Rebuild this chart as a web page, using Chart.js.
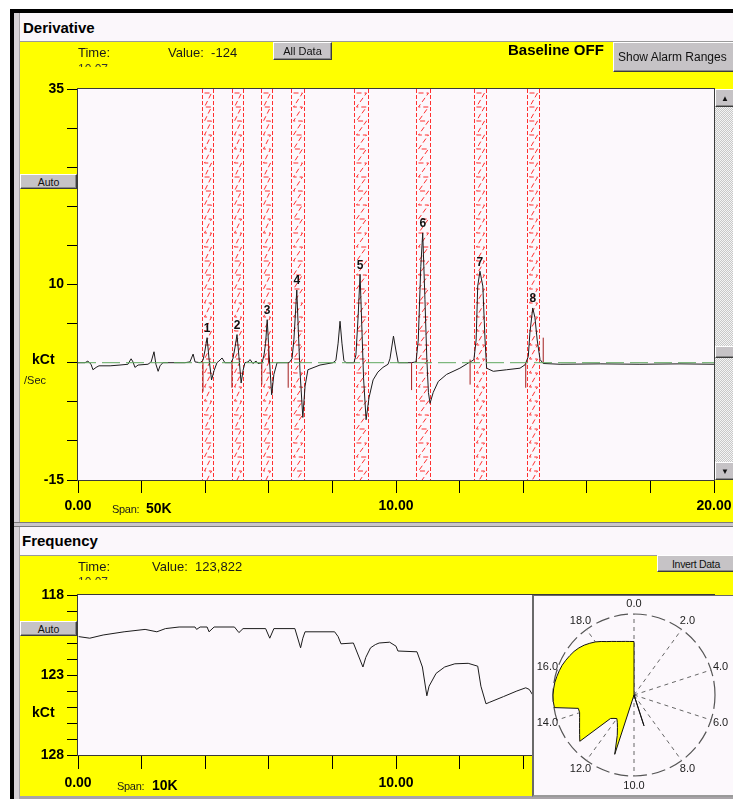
<!DOCTYPE html>
<html>
<head>
<meta charset="utf-8">
<script src="https://cdn.jsdelivr.net/npm/chart.js@4.4.1/dist/chart.umd.min.js"></script>
<style>
  body { margin:0; width:733px; height:799px; overflow:hidden; position:relative; background:#fff;
         font-family:"Liberation Sans", Arial, sans-serif; color:#000; }
  .abs { position:absolute; }
  .btn { position:absolute; box-sizing:border-box; background:#c6c3c6; border:1px solid;
         border-color:#fff #3c3c3c #3c3c3c #fff; box-shadow:inset -1px -1px #8a8a8a;
         font-size:11px; display:flex; align-items:center; justify-content:center; white-space:nowrap; color:#111; }
  .txt { position:absolute; white-space:nowrap; font-size:13px; line-height:15px; color:#1a1a1a; }
  .bold { font-weight:bold; color:#000; }
  .title { position:absolute; left:20px; width:713px; background:#fbf7fb; }
  .yellow { position:absolute; left:20px; width:713px; background:#ffff00; border-top:1px solid #9a9a9a; box-sizing:border-box; }
  .cut { position:absolute; overflow:hidden; height:4px; }
  .cut span { display:block; font-size:12px; line-height:12px; color:#333; }
  canvas { position:absolute; }
  .track { position:absolute; background:repeating-conic-gradient(#c8c8c8 0 25%, #f4f4f4 0 50%) 0 0/2px 2px; }
</style>
</head>
<body>

<!-- window frame -->
<div class="abs" style="left:10px;top:9px;width:723px;height:4px;background:#000"></div>
<div class="abs" style="left:10px;top:9px;width:4px;height:790px;background:#000"></div>
<div class="abs" style="left:14px;top:13px;width:6px;height:786px;background:#d6d2d6;border-right:1px solid #a8a4a8;box-sizing:border-box"></div>

<!-- Derivative panel -->
<div class="title" style="top:13px;height:29px"></div>
<div class="txt bold" style="left:23px;top:19px;font-size:15px;line-height:18px">Derivative</div>
<div class="yellow" style="top:41px;height:481px"></div>
<canvas id="deriv" width="740" height="480" style="left:20px;top:42px"></canvas>

<div class="txt" style="left:78px;top:45px">Time:</div>
<div class="cut" style="left:78px;top:63px;width:40px"><span>10.07</span></div>
<div class="txt" style="left:168px;top:45px">Value:&nbsp; -124</div>
<div class="btn" style="left:273px;top:42px;width:59px;height:18px">All Data</div>
<div class="txt bold" style="left:508px;top:41px;font-size:15px;line-height:18px">Baseline OFF</div>
<div class="btn" style="left:613px;top:42px;width:124px;height:30px;font-size:12px;justify-content:flex-start;padding-left:4px">Show Alarm Ranges</div>
<div class="btn" style="left:20px;top:174px;width:57px;height:15px;font-size:10.5px">Auto</div>
<div class="txt bold" style="left:32px;top:351px;font-size:14px;line-height:16px">kCt</div>
<div class="txt" style="left:24px;top:373px;font-size:11px">/Sec</div>
<div class="txt" style="left:112px;top:502px;font-size:11px;letter-spacing:-0.3px">Span:</div>
<div class="txt bold" style="left:146px;top:500px;font-size:14px;line-height:16px">50K</div>

<!-- scrollbar -->
<div class="track" style="left:715px;top:89px;width:20px;height:391px"></div>
<div class="btn" style="left:715px;top:89px;width:20px;height:18px;font-size:8px">&#9650;</div>
<div class="btn" style="left:715px;top:346px;width:20px;height:12px"></div>
<div class="btn" style="left:715px;top:462px;width:20px;height:18px;font-size:8px">&#9660;</div>

<!-- separator -->
<div class="abs" style="left:14px;top:522px;width:719px;height:5px;background:#c9c5c9;border-top:1px solid #7a7a7a;border-bottom:1px solid #7a7a7a;box-sizing:border-box"></div>

<!-- Frequency panel -->
<div class="title" style="top:527px;height:28px"></div>
<div class="txt bold" style="left:22px;top:532px;font-size:15px;line-height:18px">Frequency</div>
<div class="yellow" style="top:555px;height:242px"></div>
<div class="abs" style="left:20px;top:796px;width:713px;height:3px;background:#a8a4a8"></div>
<canvas id="freq" width="740" height="244" style="left:20px;top:555px"></canvas>

<div class="txt" style="left:78px;top:559px">Time:</div>
<div class="cut" style="left:78px;top:576px;width:40px"><span>10.07</span></div>
<div class="txt" style="left:152px;top:559px">Value:&nbsp; 123,822</div>
<div class="btn" style="left:657px;top:555px;width:78px;height:17px;font-size:10.5px;letter-spacing:-0.3px">Invert Data</div>
<div class="btn" style="left:20px;top:621px;width:57px;height:15px;font-size:10.5px">Auto</div>
<div class="txt bold" style="left:32px;top:704px;font-size:14px;line-height:16px">kCt</div>
<div class="txt" style="left:117px;top:779px;font-size:11px;letter-spacing:-0.3px">Span:</div>
<div class="txt bold" style="left:152px;top:777px;font-size:14px;line-height:16px">10K</div>

<!-- polar inset -->
<div class="abs" style="left:532px;top:595px;width:203px;height:202px;background:#fcf8fc;border-left:2px solid #6a6a6a;border-top:1px solid #6a6a6a;border-bottom:2px solid #9a9a9a;box-sizing:border-box"></div>
<canvas id="polar" width="200" height="200" style="left:534px;top:596px"></canvas>

<script>
// ---- Derivative trace (time in units, value in kCt/Sec) ----
const derivTime = [0.00,0.22,0.31,0.41,0.47,0.57,0.66,1.01,1.32,1.57,1.67,1.73,1.79,1.89,2.20,2.30,2.39,2.45,2.52,2.58,
  2.67,3.05,3.36,3.52,3.62,3.68,3.84,3.93,3.99,4.06,4.12,4.20,4.28,4.37,4.43,4.53,4.62,4.81,4.87,4.94,
  5.00,5.06,5.13,5.19,5.25,5.35,5.41,5.50,5.60,5.66,5.79,5.85,5.90,5.95,6.01,6.09,6.16,6.26,6.64,6.73,
  6.79,6.88,6.93,6.98,7.07,7.14,7.23,7.61,8.02,8.11,8.18,8.24,8.30,8.36,8.43,8.68,8.74,8.81,8.87,8.93,
  8.98,9.06,9.15,9.28,9.43,9.59,9.75,9.81,9.92,10.00,10.07,10.28,10.49,10.63,10.70,10.78,10.84,10.91,10.97,11.02,
  11.07,11.17,11.33,11.59,12.01,12.27,12.38,12.45,12.52,12.57,12.64,12.73,12.80,12.85,13.06,13.48,13.90,14.06,14.16,14.21,
  14.30,14.37,14.44,14.53,14.63,15.16,16.42,17.67,18.93,20.00];
const derivValue = [0.0,0.0,0.2,-0.2,-0.9,-0.6,-0.4,-0.4,-0.3,-0.2,0.5,0.1,-0.6,-0.3,-0.2,0.1,1.4,-0.2,-1.1,-0.4,
  0.0,0.0,0.0,0.1,1.1,0.1,0.0,0.3,1.5,3.2,0.5,-2.2,-1.0,0.0,0.2,0.6,0.0,0.0,0.5,2.0,
  3.6,0.8,-2.6,-1.0,0.0,0.1,0.4,-0.1,0.2,-0.1,0.0,1.0,2.5,5.5,1.0,-4.1,-1.5,0.0,0.0,0.5,
  3.0,9.3,4.0,-1.0,-7.0,-3.0,-0.9,-0.3,0.0,0.3,2.5,5.3,2.5,0.3,0.0,0.0,1.0,6.0,11.3,4.0,
  -2.0,-7.3,-4.5,-2.2,-1.2,-0.6,-0.2,0.5,3.4,1.5,0.0,0.0,0.0,0.1,2.9,12.3,16.6,8.1,0.4,-3.8,
  -5.2,-3.8,-2.4,-1.5,-0.7,-0.05,0.2,0.4,2.9,9.8,11.7,9.8,2.9,-0.7,-1.1,-0.9,-0.7,-0.26,0.8,3.8,
  7.0,5.75,2.9,0.4,-0.1,-0.2,-0.15,-0.2,-0.15,-0.2];

// numbered peaks
const peakNames = ['1','2','3','4','5','6','7','8'];
const peakTime = [4.06, 5.00, 5.95, 6.88, 8.87, 10.84, 12.64, 14.30];
const peakHeight = [3.2, 3.6, 5.5, 9.3, 11.3, 16.6, 11.7, 7.0];

// alarm range windows around each peak
const zoneStart = [3.89, 4.84, 5.76, 6.71, 8.68, 10.63, 12.45, 14.11];
const zoneEnd   = [4.24, 5.18, 6.11, 7.12, 9.13, 11.07, 12.83, 14.51];

// peak start / end markers
const markerTime = [3.93, 4.84, 5.78, 5.99, 6.61, 10.49, 12.33, 14.08, 14.63];
const markerLow  = [-3.7, -3.2, -2.8, 0.0, -3.2, -3.5, -2.8, -3.2, 0.0];
const markerHigh = [0.0, 0.0, 0.0, 2.6, 0.0, 0.0, 0.4, 0.0, 3.2];

// axis ticks
const derivYLabels = [35, 10, -15];
const timeLabels = [0, 10, 20];
const freqYLabels = [118, 123, 128];

// ---- Frequency trace (kCt) ----
const freqTime = [0.02,0.37,0.79,1.45,2.11,2.48,2.75,3.18,3.68,3.73,3.84,4.06,4.12,4.28,4.92,5.06,5.19,5.90,6.03,6.16,
  6.82,7.00,7.07,7.14,8.07,8.18,8.27,8.66,8.96,9.05,9.20,9.35,9.47,9.80,10.00,10.06,10.66,10.83,10.97,11.04,
  11.26,11.53,11.85,12.27,12.57,12.67,12.83,12.95,13.38,13.80,14.08,14.19,14.30];
const freqValue = [120.6,120.7,120.5,120.3,120.15,120.3,120.1,120.0,120.0,120.15,120.0,120.0,120.3,120.0,120.0,120.35,120.1,120.1,120.7,120.1,
  120.1,121.3,120.7,120.3,120.3,120.6,121.05,121.0,122.5,121.9,121.3,121.1,121.0,120.95,121.2,121.5,121.55,122.5,124.3,123.7,
  122.9,122.5,122.3,122.27,122.45,123.7,124.8,124.7,124.35,124.0,123.8,123.9,124.25];

// ---- Polar view of the frequency trace (radius in % of full scale, one value per 0.25 time units) ----
const polarRadius = [66, 0,0,0,0,0,0,0,0,0,0, 0,0,0,0,0,0,0,0,0,0, 0,0,0,0,0,0,0,0,0,0, 0,0,0,0,0,
  40, 0,0,0,0,0,0,0,
  77,54,45,39.5,36,38,41,88,83,78.8,75.4,72.7,70.6,70.7,99.5,100,100,99.5,99,98,97,96,
  94.5,93,91.5,89.5,87,84,81,77.5,74,71.6,69.5,68,67,66.3];
const polarSpokeLabels = ['0.0','2.0','4.0','6.0','8.0','10.0','12.0','14.0','16.0','18.0'];

const FONT = '"Liberation Sans", Arial, sans-serif';
Chart.defaults.font.family = FONT;
Chart.defaults.color = '#000';

const pairs = (xs, ys) => xs.map((v, i) => ({x: v, y: ys[i]}));

// plot background and frame
const plotFrame = {
  id: 'plotFrame',
  beforeDraw(chart) {
    const {ctx, chartArea: a} = chart;
    ctx.save();
    ctx.fillStyle = '#fcf8fc';
    ctx.fillRect(a.left, a.top, a.width, a.height);
    ctx.restore();
  },
  afterDraw(chart) {
    const {ctx, chartArea: a} = chart;
    ctx.save();
    ctx.strokeStyle = '#3a3a3a';
    ctx.lineWidth = 1;
    ctx.strokeRect(Math.round(a.left) - 0.5, Math.round(a.top) - 0.5, Math.round(a.width) + 1, Math.round(a.height) + 1);
    ctx.restore();
  }
};

// hatched alarm windows
const alarmZones = {
  id: 'alarmZones',
  beforeDatasetsDraw(chart) {
    const {ctx, chartArea: a, scales: {x}} = chart;
    ctx.save();
    ctx.beginPath(); ctx.rect(a.left, a.top, a.width, a.height); ctx.clip();
    ctx.strokeStyle = 'rgba(255,25,25,0.9)';
    ctx.lineWidth = 1;
    zoneStart.forEach((s, i) => {
      const x0 = Math.round(x.getPixelForValue(s)) + 0.5;
      const x1 = Math.round(x.getPixelForValue(zoneEnd[i])) + 0.5;
      ctx.setLineDash([4, 2]);
      ctx.beginPath();
      ctx.moveTo(x0, a.top); ctx.lineTo(x0, a.bottom);
      ctx.moveTo(x1, a.top); ctx.lineTo(x1, a.bottom);
      ctx.stroke();
      ctx.setLineDash([5, 3]);
      ctx.beginPath();
      const p = 14;
      ctx.moveTo(x0 + 2, a.top + 4);
      for (let y = a.top + 4; y < a.bottom + p; y += p) {
        ctx.lineTo(x1 - 2, y);
        ctx.lineTo(x0 + 2, y + p);
      }
      ctx.stroke();
    });
    ctx.restore();
  }
};

// peak numbers
const peakLabels = {
  id: 'peakLabels',
  afterDatasetsDraw(chart) {
    const {ctx, scales: {x, y}} = chart;
    ctx.save();
    ctx.font = 'bold 12px ' + FONT;
    ctx.fillStyle = '#111';
    ctx.textAlign = 'center';
    ctx.textBaseline = 'middle';
    peakNames.forEach((n, i) => {
      ctx.fillText(n, x.getPixelForValue(peakTime[i]), y.getPixelForValue(peakHeight[i]) - 9);
    });
    ctx.restore();
  }
};

const markerPoints = [];
markerTime.forEach((t, i) => {
  markerPoints.push({x: t, y: markerLow[i]}, {x: t, y: markerHigh[i]}, {x: t, y: null});
});

const numberFont = {family: FONT, size: 14, weight: 'bold'};

new Chart(document.getElementById('deriv'), {
  type: 'line',
  data: {
    datasets: [
      { data: [{x: 0, y: 0}, {x: 20, y: 0}], borderColor: '#5fa85f', borderWidth: 1, borderDash: [18, 6], pointRadius: 0 },
      { data: markerPoints, borderColor: '#a31d1d', borderWidth: 1, pointRadius: 0, spanGaps: false },
      { data: pairs(derivTime, derivValue), borderColor: '#1c1c1c', borderWidth: 1, pointRadius: 0, tension: 0 }
    ]
  },
  options: {
    responsive: false, animation: false, events: [],
    layout: {padding: {left: 0, top: 47, right: 46, bottom: 0}},
    plugins: {legend: {display: false}, tooltip: {enabled: false}},
    scales: {
      x: {
        type: 'linear', min: 0, max: 20,
        afterFit(s) { s.height = 42; },
        border: {display: false},
        grid: {drawOnChartArea: false, drawTicks: true, tickLength: 13, tickColor: '#000', tickWidth: 1},
        ticks: {stepSize: 2, autoSkip: false, maxRotation: 0, padding: 5, font: numberFont, color: '#000',
                callback: v => timeLabels.includes(v) ? v.toFixed(2) : ''}
      },
      y: {
        min: -15, max: 35,
        afterFit(s) { s.width = 58; },
        border: {display: false},
        grid: {drawOnChartArea: false, drawTicks: true, tickLength: 11, tickColor: '#000', tickWidth: 1},
        ticks: {stepSize: 5, autoSkip: false, padding: 3, font: numberFont, color: '#000',
                callback: v => derivYLabels.includes(v) ? String(v) : ''}
      }
    }
  },
  plugins: [plotFrame, alarmZones, peakLabels]
});

new Chart(document.getElementById('freq'), {
  type: 'line',
  data: {
    datasets: [
      { data: pairs(freqTime, freqValue), borderColor: '#1c1c1c', borderWidth: 1, pointRadius: 0, tension: 0 }
    ]
  },
  options: {
    responsive: false, animation: false, events: [],
    layout: {padding: {left: 0, top: 40, right: 46, bottom: 0}},
    plugins: {legend: {display: false}, tooltip: {enabled: false}},
    scales: {
      x: {
        type: 'linear', min: 0, max: 20,
        afterFit(s) { s.height = 44; },
        border: {display: false},
        grid: {drawOnChartArea: false, drawTicks: true, tickLength: 14, tickColor: '#000', tickWidth: 1},
        ticks: {stepSize: 2, autoSkip: false, maxRotation: 0, padding: 6, font: numberFont, color: '#000',
                callback: v => timeLabels.includes(v) ? v.toFixed(2) : ''}
      },
      y: {
        min: 118, max: 128, reverse: true,
        afterFit(s) { s.width = 58; },
        border: {display: false},
        grid: {drawOnChartArea: false, drawTicks: true, tickLength: 11, tickColor: '#000', tickWidth: 1},
        ticks: {stepSize: 1, autoSkip: false, padding: 3, font: numberFont, color: '#000',
                callback: v => freqYLabels.includes(v) ? String(v) : ''}
      }
    }
  },
  plugins: [plotFrame]
});

// spoke labels around the polar view
const spokeLabels = {
  id: 'spokeLabels',
  afterDraw(chart) {
    const {ctx} = chart;
    const r = chart.scales.r;
    const step = polarRadius.length / polarSpokeLabels.length;
    ctx.save();
    ctx.font = '11px ' + FONT;
    ctx.fillStyle = '#222';
    ctx.textAlign = 'center';
    ctx.textBaseline = 'middle';
    polarSpokeLabels.forEach((lab, k) => {
      const p = r.getPointPosition(k * step, r.drawingArea + 10);
      ctx.fillText(lab, p.x, p.y);
    });
    ctx.restore();
  }
};

const spokeStep = polarRadius.length / polarSpokeLabels.length;
new Chart(document.getElementById('polar'), {
  type: 'radar',
  data: {
    labels: polarRadius.map((_, i) => String(i)),
    datasets: [{
      data: polarRadius, backgroundColor: '#ffff00', borderColor: '#111', borderWidth: 1,
      pointRadius: 0, fill: true, tension: 0
    }]
  },
  options: {
    responsive: false, animation: false, events: [],
    layout: {padding: {left: 19, right: 19, top: 18, bottom: 20}},
    plugins: {legend: {display: false}, tooltip: {enabled: false}},
    scales: {
      r: {
        min: 0, max: 100,
        ticks: {display: false, stepSize: 100},
        pointLabels: {display: false},
        grid: {circular: true, color: '#555', lineWidth: 1.2},
        border: {dash: [14, 5]},
        angleLines: {color: '#666', borderDash: [4, 4],
                     lineWidth: c => (c.index % spokeStep === 0 ? 1 : 0)}
      }
    }
  },
  plugins: [spokeLabels]
});
</script>
</body>
</html>
